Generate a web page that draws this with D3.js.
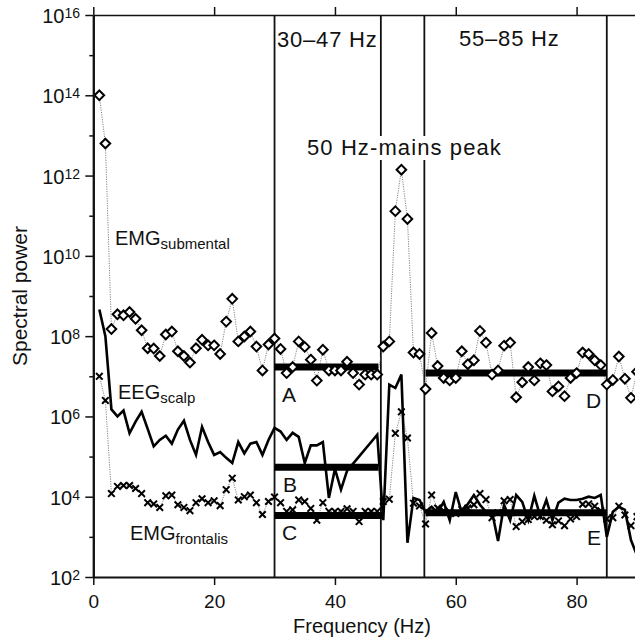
<!DOCTYPE html>
<html lang="en">
  <head>
    <meta charset="UTF-8" />
    <title>spectral power</title>
    <style>
      body { margin: 0; background: #fff; }
      text { font-family: "Liberation Sans", Arial, Helvetica, sans-serif; fill: #111; }
    </style>
  </head>
  <body>
    <svg width="635" height="642" id="svg"></svg>
    <script src="https://cdn.jsdelivr.net/npm/d3@7/dist/d3.min.js"></script>
    <script>
      // frequency bins (Hz)
      const freqs = [
        1, 2, 3, 4, 5, 6, 7, 8, 9, 10, 11, 12, 13, 14, 15, 16, 17, 18, 19, 20,
        21, 22, 23, 24, 25, 26, 27, 28, 29, 30, 31, 32, 33, 34, 35, 36, 37, 38, 39, 40,
        41, 42, 43, 44, 45, 46, 47, 48, 49, 50, 51, 52, 53, 54, 55, 56, 57, 58, 59, 60,
        61, 62, 63, 64, 65, 66, 67, 68, 69, 70, 71, 72, 73, 74, 75, 76, 77, 78, 79, 80,
        81, 82, 83, 84, 85, 86, 87, 88, 89, 90
      ];

      // EMG submental (diamonds)
      const submental = [
        1.0e14, 6.3e12, 1.5e8, 3.5e8, 3.3e8, 4.0e8, 2.7e8, 1.4e8, 5.0e7, 4.9e7,
        3.2e7, 1.1e8, 1.3e8, 4.2e7, 3.2e7, 2.2e7, 5.0e7, 8.1e7, 5.9e7, 5.9e7,
        3.6e7, 2.3e8, 8.5e8, 7.4e7, 9.8e7, 1.3e8, 5.5e7, 1.4e7, 6.2e7, 8.7e7,
        4.8e7, 1.2e7, 1.7e7, 7.4e7, 5.4e7, 2.6e7, 7.8e6, 4.6e7, 1.4e7, 1.4e7,
        1.4e7, 2.3e7, 1.2e7, 6.2e6, 1.1e7, 1.1e7, 1.1e7, 5.5e7, 7.4e7, 1.3e11,
        1.4e12, 8.3e10, 3.9e7, 3.6e7, 4.8e6, 1.2e8, 1.8e7, 9.1e6, 7.9e6, 9.1e6,
        4.2e7, 2.0e7, 2.5e7, 1.35e8, 6.9e7, 1.1e7, 1.4e7, 5.8e7, 6.9e7, 3.0e6,
        7.1e6, 1.7e7, 7.9e6, 2.1e7, 1.9e7, 4.2e6, 5.6e6, 3.2e6, 9.1e6, 1.2e7,
        3.9e7, 3.6e7, 2.5e7, 1.9e7, 6.2e6, 8.1e6, 3.1e7, 8.7e6, 2.9e6, 1.3e7
      ];

      // EEG scalp (solid line), null = no point
      const eegScalp = [
        4.6e8, 1.0e8, 1.5e6, 1.0e6, 1.4e6, 3.8e5, 7.4e5, 1.3e6, 4.9e5, 1.8e5,
        2.6e5, 3.3e5, 2.1e5, 4.7e5, 7.8e5, 2.6e5, 1.1e5, 5.5e5, 2.3e5, 1.1e5,
        1.3e5, 9.3e4, 6.9e4, 2.3e5, 1.2e5, 2.1e5, 2.3e5, 1.1e5, 2.6e5, 5.2e5,
        4.2e5, 2.6e5, 3.9e5, 3.1e5, 6.9e4, 1.9e5, 1.9e5, 2.3e5, 9.3e3, 4.9e4,
        1.5e4, 4.4e4, null, null, null, null, 3.5e5, 2.6e3, 6.2e6, 5.1e6,
        1.1e7, 7.1e2, 9.3e3, 8.3e3, 4.2e3, 5.6e3, 4.0e3, 7.4e3, 2.6e3, 1.3e4,
        4.0e3, 6.6e3, 1.1e4, 6.3e3, 4.2e3, 4.2e3, 7.9e2, 6.3e3, 2.6e3, 1.1e4,
        7.4e3, 2.6e3, 1.05e4, 3.2e3, 8.3e3, 2.6e3, 7.1e3, 8.9e3, 8.3e3, 8.3e3,
        8.9e3, 1.0e4, 9.3e3, 1.1e4, 1.0e3, 4.2e3, 5.6e3, 4.7e3, 8.3e2, 3.5e2
      ];

      // EMG frontalis (crosses)
      const frontalis = [
        1.0e7, 2.5e6, 1.2e4, 1.8e4, 1.9e4, 1.9e4, 1.6e4, 1.2e4, 7.1e3, 6.6e3,
        5.4e3, 1.05e4, 1.1e4, 6.3e3, 5.4e3, 4.5e3, 7.1e3, 8.9e3, 7.1e3, 7.9e3,
        6.0e3, 1.5e4, 2.9e4, 8.3e3, 1.0e4, 1.1e4, 7.1e3, 3.6e3, 7.6e3, 9.8e3,
        7.1e3, 4.3e3, 4.7e3, 8.3e3, 7.6e3, 5.1e3, 2.6e3, 7.1e3, 4.3e3, 4.3e3,
        4.3e3, 5.0e3, 4.3e3, 2.4e3, 4.3e3, 4.3e3, 4.3e3, 7.6e3, 8.7e3, 3.8e5,
        1.3e6, 2.9e5, 6.9e3, 5.9e3, 2.1e3, 1.1e4, 5.2e3, 4.5e3, 4.2e3, 3.8e3,
        4.8e3, 5.2e3, 6.3e3, 1.2e4, 8.5e3, 3.0e3, 4.0e3, 7.9e3, 8.5e3, 1.8e3,
        2.4e3, 2.7e3, 3.2e3, 3.2e3, 2.6e3, 2.0e3, 2.5e3, 1.9e3, 2.8e3, 3.2e3,
        6.5e3, 6.6e3, 5.8e3, 4.5e3, 2.8e3, 3.0e3, 5.8e3, 3.5e3, 1.9e3, 3.2e3
      ];

      // band means (thick bars)
      const bandLabels = ["A", "B", "C", "D", "E"];
      const bandFrom = [30, 30, 30, 55, 55];
      const bandTo = [47.2, 47.2, 47.8, 85, 85];
      const bandMean = [1.7e7, 5.4e4, 3.4e3, 1.2e7, 4.0e3];

      const bandEdges = [30, 47.6, 54.8, 85];
      const xTicks = [0, 20, 40, 60, 80];
      const yMajor = [1e2, 1e4, 1e6, 1e8, 1e10, 1e12, 1e14, 1e16];
      const yMinor = [1e3, 1e5, 1e7, 1e9, 1e11, 1e13, 1e15];

      const svg = d3.select("#svg");
      const x = d3.scaleLinear().domain([0, 90]).range([93.3, 637]);
      const y = d3.scaleLog().domain([1e2, 1e16]).range([577, 15]);

      const g = svg.append("g");

      // vertical band edges
      g.selectAll(".edge").data(bandEdges).join("line")
        .attr("x1", d => x(d)).attr("x2", d => x(d))
        .attr("y1", y(1e16)).attr("y2", y(1e2))
        .attr("stroke", "#111").attr("stroke-width", 1.8);

      const rows = freqs.map((f, i) => ({ f, sub: submental[i], eeg: eegScalp[i], fro: frontalis[i] }));

      // thin dotted connectors
      const dotLine = key => d3.line().x(d => x(d.f)).y(d => y(d[key]));
      g.append("path").datum(rows).attr("d", dotLine("sub"))
        .attr("fill", "none").attr("stroke", "#666").attr("stroke-width", 0.8).attr("stroke-dasharray", "1.2,1.2");
      g.append("path").datum(rows).attr("d", dotLine("fro"))
        .attr("fill", "none").attr("stroke", "#666").attr("stroke-width", 0.8).attr("stroke-dasharray", "1.2,1.2");

      // band mean bars
      g.selectAll(".bar").data(bandMean).join("line")
        .attr("x1", (d, i) => x(bandFrom[i])).attr("x2", (d, i) => x(bandTo[i]))
        .attr("y1", d => y(d)).attr("y2", d => y(d))
        .attr("stroke", "#000").attr("stroke-width", 7);

      // EEG line
      g.append("path").datum(rows.filter(d => d.eeg != null))
        .attr("d", dotLine("eeg"))
        .attr("fill", "none").attr("stroke", "#000").attr("stroke-width", 2.6).attr("stroke-linejoin", "miter");

      // diamonds
      g.selectAll(".dia").data(rows).join("path")
        .attr("d", "M0,-4.8L4.8,0L0,4.8L-4.8,0Z")
        .attr("transform", d => `translate(${x(d.f)},${y(d.sub)})`)
        .attr("fill", "#fff").attr("stroke", "#000").attr("stroke-width", 2);

      // crosses
      g.selectAll(".crs").data(rows).join("path")
        .attr("d", "M-3.3,-3.3L3.3,3.3M-3.3,3.3L3.3,-3.3")
        .attr("transform", d => `translate(${x(d.f)},${y(d.fro)})`)
        .attr("fill", "none").attr("stroke", "#000").attr("stroke-width", 2);

      // axes
      const axB = g.append("g").attr("transform", `translate(0,${y(1e2)})`)
        .call(d3.axisBottom(x).tickValues(xTicks).tickSize(8).tickSizeOuter(0).tickPadding(10).tickFormat(d3.format("d")));
      const axT = g.append("g").attr("transform", `translate(0,${y(1e16)})`)
        .call(d3.axisTop(x).tickValues(xTicks).tickSize(8).tickSizeOuter(0).tickFormat(""));
      const axL = g.append("g").attr("transform", `translate(${x(0)},0)`)
        .call(d3.axisLeft(y).tickValues(yMajor).tickSize(8).tickSizeOuter(0).tickFormat(""));
      const axL2 = g.append("g").attr("transform", `translate(${x(0)},0)`)
        .call(d3.axisLeft(y).tickValues(yMinor).tickSize(4).tickSizeOuter(0).tickFormat(""));
      [axB, axT, axL, axL2].forEach(a => {
        a.selectAll("path.domain").attr("stroke", "#111").attr("stroke-width", 2);
        a.selectAll(".tick line").attr("stroke", "#111").attr("stroke-width", 1.5);
      });
      axT.select("path.domain").attr("stroke-width", 1.5);
      axB.selectAll(".tick text").style("font-size", "19px").attr("fill", "#111")
        .style("font-family", "'Liberation Sans', Arial, sans-serif");

      // y labels 10^n
      g.selectAll(".ylab").data(yMajor).join("text")
        .attr("x", 80).attr("y", d => y(d) + 8)
        .attr("text-anchor", "end")
        .style("font-size", "20px")
        .each(function (d) {
          const t = d3.select(this);
          t.append("tspan").text("10");
          t.append("tspan").attr("dy", -5).style("font-size", "14px").text(Math.round(Math.log10(d)));
        });

      // axis titles
      svg.append("text").attr("x", 362).attr("y", 633).attr("text-anchor", "middle")
        .style("font-size", "20px").text("Frequency (Hz)");
      svg.append("text").attr("transform", "translate(27,296) rotate(-90)").attr("text-anchor", "middle")
        .style("font-size", "21px").text("Spectral power");

      // band titles
      svg.append("text").attr("x", 277).attr("y", 47).style("font-size", "22px")
        .style("letter-spacing", "0.8px").text("30–47 Hz");
      svg.append("text").attr("x", 459).attr("y", 46).style("font-size", "22px")
        .style("letter-spacing", "0.8px").text("55–85 Hz");

      // mains label sits on a white patch that breaks the band edges
      const mainsBg = svg.append("rect").attr("fill", "#fff");
      const mains = svg.append("text").attr("x", 307).attr("y", 155).style("font-size", "22px")
        .style("letter-spacing", "1.1px").text("50 Hz-mains peak");
      const bb = mains.node().getBBox();
      mainsBg.attr("x", bb.x - 2).attr("y", bb.y + 1).attr("width", bb.width + 4).attr("height", bb.height - 1);

      // series labels with subscripts
      const seriesLabels = [
        { main: "EMG", sub: "submental", x: 115, y: 245 },
        { main: "EEG", sub: "scalp", x: 118, y: 399 },
        { main: "EMG", sub: "frontalis", x: 130, y: 540 }
      ];
      seriesLabels.forEach(s => {
        const t = svg.append("text").attr("x", s.x).attr("y", s.y).style("font-size", "20px");
        t.append("tspan").text(s.main);
        t.append("tspan").attr("dy", 4).style("font-size", "15px").text(s.sub);
      });

      // letters A-E
      const letterPos = [[282, 402], [283, 492], [282, 540], [586, 408], [587, 545]];
      svg.selectAll(".let").data(bandLabels).join("text")
        .attr("x", (d, i) => letterPos[i][0]).attr("y", (d, i) => letterPos[i][1])
        .style("font-size", "21px").text(d => d);
    </script>
  </body>
</html>
